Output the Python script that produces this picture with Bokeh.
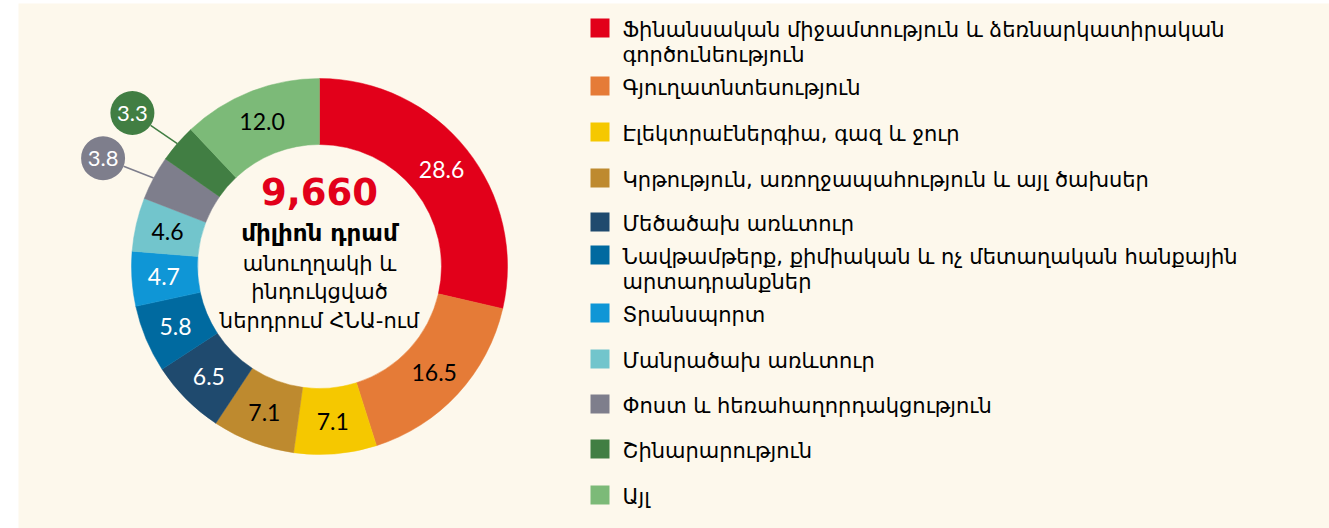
import numpy as np
from bokeh.plotting import figure
from bokeh.models import Range1d
from bokeh.core.properties import value
from bokeh.embed import file_html
from bokeh.resources import INLINE

# ---------------- data ----------------
categories = [
    "Ֆինանսական միջամտություն և ձեռնարկատիրական\nգործունեություն",
    "Գյուղատնտեսություն",
    "Էլեկտրաէներգիա, գազ և ջուր",
    "Կրթություն, առողջապահություն և այլ ծախսեր",
    "Մեծածախ առևտուր",
    "Նավթամթերք, քիմիական և ոչ մետաղական հանքային\nարտադրանքներ",
    "Տրանսպորտ",
    "Մանրածախ առևտուր",
    "Փոստ և հեռահաղորդակցություն",
    "Շինարարություն",
    "Այլ",
]
shares = [28.6, 16.5, 7.1, 7.1, 6.5, 5.8, 4.7, 4.6, 3.8, 3.3, 12.0]
total_text = "9,660"
center_lines = ["միլիոն դրամ", "անուղղակի և", "ինդուկցված", "ներդրում ՀՆԱ-ում"]

# ---------------- styles ----------------
colors = ["#E2001A", "#E57B37", "#F5C800", "#BE8A2F", "#1F4A6E", "#006AA0",
          "#0F96D6", "#72C5CC", "#7E7E8C", "#417E43", "#7CBA78"]
label_colors = ["white", "black", "black", "black", "white", "white",
                "white", "black", "white", "white", "black"]
outside = [False, False, False, False, False, False, False, False, True, True, False]
BG = "#FDF8EC"

W, H = 1329, 528
cx, cy = 319, H - 266
r_in, r_out = 122, 188
r_lab = 156
r_bub, bub_size = 242, 22
bub_shift = np.deg2rad(1.5)

legend_y_page = [27.5, 85.5, 131.5, 177.5, 221.5, 254.5, 312.5, 358.5, 403.5, 448.5, 494.5]
center_y_page = [191, 232, 263, 291, 320]

p = figure(width=W, height=H, output_backend="svg", toolbar_location=None,
           x_range=Range1d(0, W), y_range=Range1d(0, H),
           x_axis_type=None, y_axis_type=None, min_border=0)
p.outline_line_color = None
p.background_fill_color = "white"
p.border_fill_color = "white"

p.quad(left=18, right=W, bottom=0, top=H - 3, fill_color=BG, line_color=None)

vals = np.array(shares)
cum = np.concatenate([[0], np.cumsum(vals)]) / vals.sum()
start = np.pi / 2 - cum[:-1] * 2 * np.pi
end = np.pi / 2 - cum[1:] * 2 * np.pi
mid = (start + end) / 2

p.annular_wedge(x=cx, y=cy, inner_radius=r_in, outer_radius=r_out,
                start_angle=list(start), end_angle=list(end), direction="clock",
                fill_color=colors, line_color=colors, line_width=0.5)

num_font = value("Lato")
for i, v in enumerate(shares):
    a = mid[i]
    if outside[i]:
        x0, y0 = cx + r_out * np.cos(a), cy + r_out * np.sin(a)
        b = a + bub_shift
        bx, by = cx + r_bub * np.cos(b), cy + r_bub * np.sin(b)
        d = np.hypot(bx - x0, by - y0)
        x1 = bx + (x0 - bx) * bub_size / d
        y1 = by + (y0 - by) * bub_size / d
        p.line([x0, x1], [y0, y1], line_color=colors[i], line_width=1.5)
        p.circle(x=bx, y=by, radius=bub_size, fill_color=colors[i], line_color=None)
        p.text(x=[bx], y=[by], text=[f"{v:.1f}"], text_align="center", text_baseline="middle",
               text_font=num_font, text_font_size="22px", text_color="white")
    else:
        lx, ly = cx + r_lab * np.cos(a), cy + r_lab * np.sin(a)
        p.text(x=[lx], y=[ly], text=[f"{v:.1f}"], text_align="center", text_baseline="middle",
               text_font=num_font, text_font_size="23px", text_color=label_colors[i])

# center text
p.text(x=[cx], y=[H - center_y_page[0]], text=[total_text], text_align="center",
       text_baseline="middle", text_font=value("DejaVu Sans"), text_font_style="bold",
       text_font_size="37px", text_color="#E2001A")
p.text(x=[cx], y=[H - center_y_page[1]], text=[center_lines[0]], text_align="center",
       text_baseline="middle", text_font=value("DejaVu Sans"), text_font_style="bold",
       text_font_size="23px", text_color="black")
for k in range(1, 4):
    p.text(x=[cx], y=[H - center_y_page[k + 1]], text=[center_lines[k]], text_align="center",
           text_baseline="middle", text_font=value("DejaVu Sans"),
           text_font_size="21px", text_color="black")

# legend
sq_x, txt_x, sq = 599.5, 622, 19
for i, lab in enumerate(categories):
    yy = H - legend_y_page[i]
    p.rect(x=sq_x, y=yy, width=sq, height=sq, fill_color=colors[i], line_color=None)
    for j, line in enumerate(lab.split("\n")):
        p.text(x=[txt_x], y=[yy - 1.5 - 25 * j], text=[line], text_align="left",
               text_baseline="middle", text_font=value("DejaVu Sans"),
               text_font_size="21px", text_color="black")

open("out.html", "w").write(file_html(p, INLINE))
